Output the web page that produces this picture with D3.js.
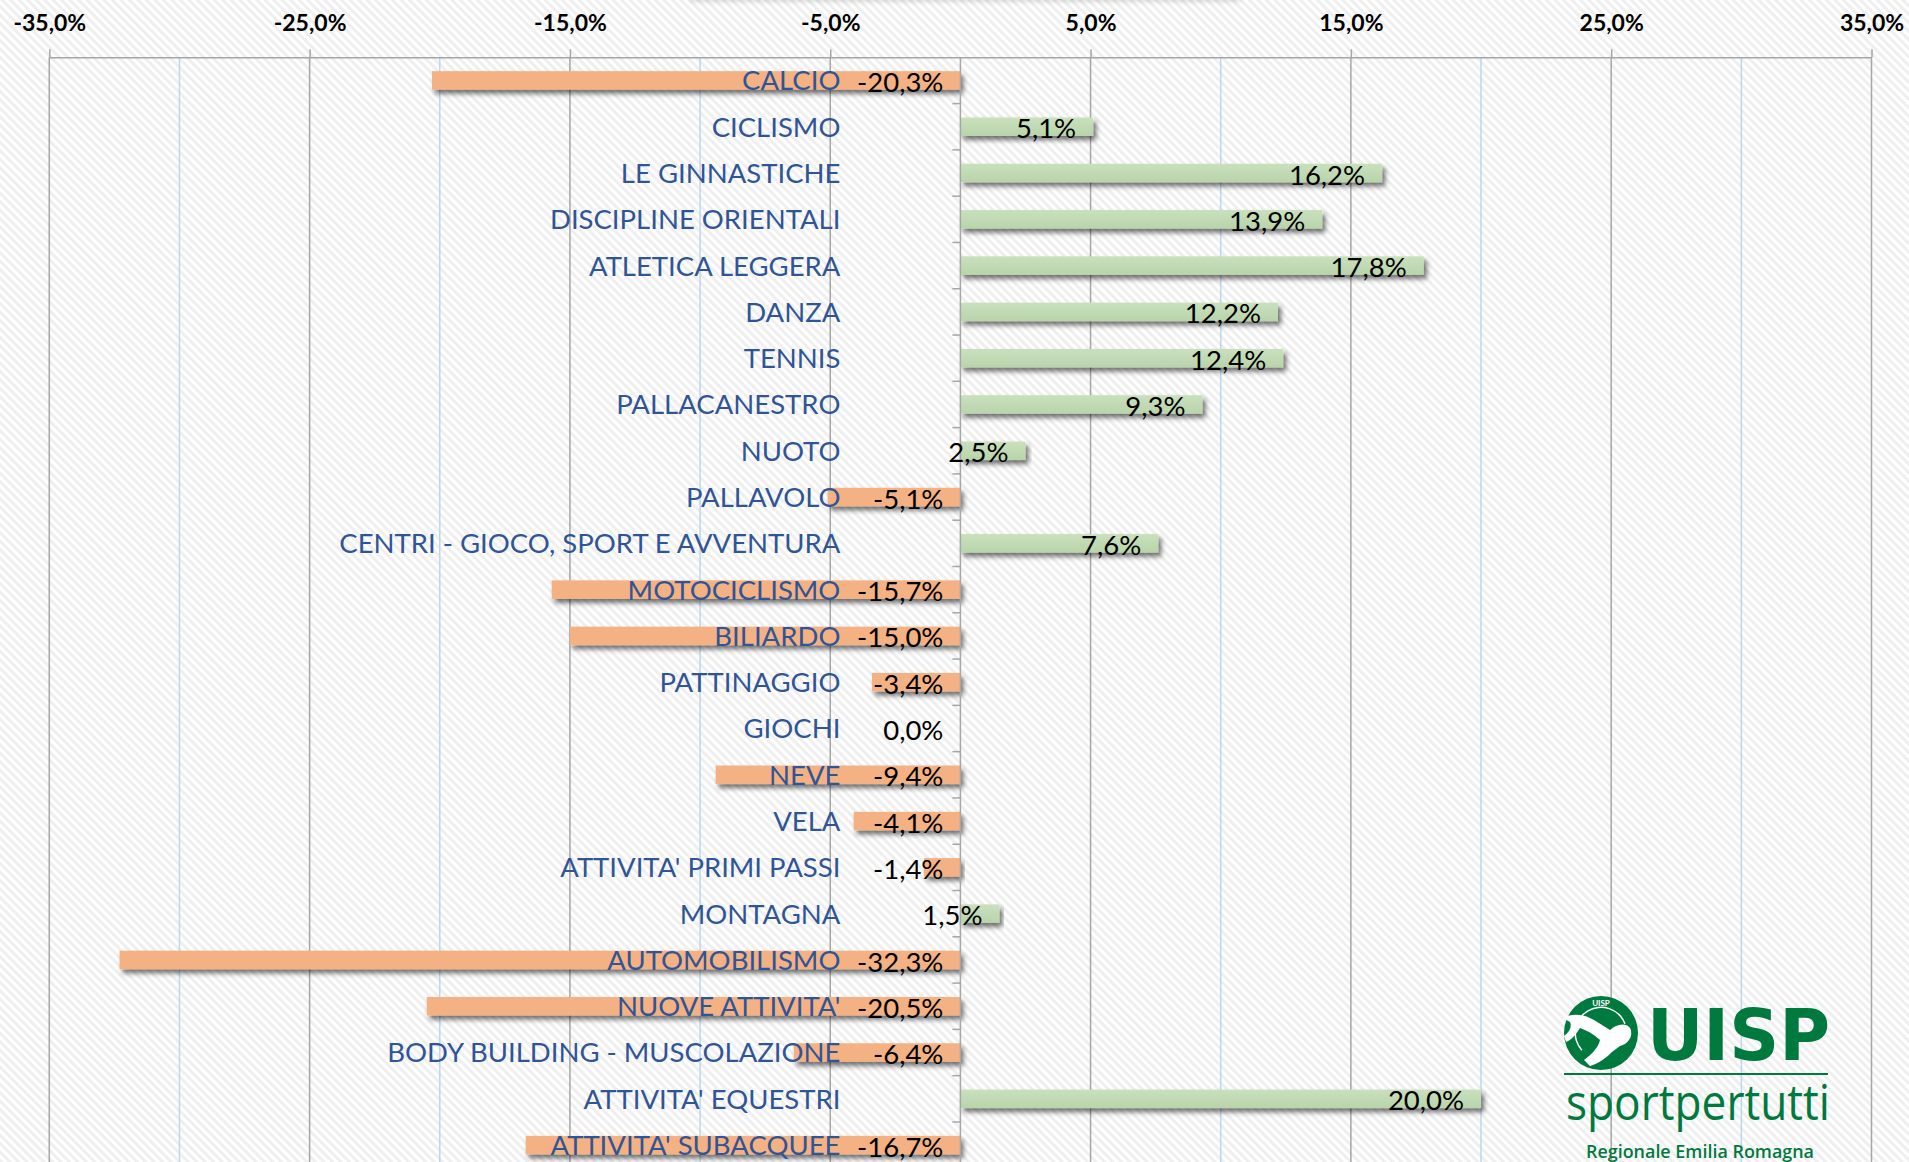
<!doctype html>
<html lang="it">
<head>
<meta charset="utf-8">
<title>Variazione tesserati per attivita'</title>
<script src="https://d3js.org/d3.v7.min.js"></script>
<style>
  body { margin: 0; background: #fff; }
  svg text { font-family: Lato, "Open Sans", sans-serif; }
</style>
</head>
<body>
<svg id="chart" width="1909" height="1162"></svg>
<script>
// data
var categories = ["CALCIO", "CICLISMO", "LE GINNASTICHE", "DISCIPLINE ORIENTALI", "ATLETICA LEGGERA",
  "DANZA", "TENNIS", "PALLACANESTRO", "NUOTO", "PALLAVOLO", "CENTRI - GIOCO, SPORT E AVVENTURA",
  "MOTOCICLISMO", "BILIARDO", "PATTINAGGIO", "GIOCHI", "NEVE", "VELA", "ATTIVITA' PRIMI PASSI",
  "MONTAGNA", "AUTOMOBILISMO", "NUOVE ATTIVITA'", "BODY BUILDING - MUSCOLAZIONE",
  "ATTIVITA' EQUESTRI", "ATTIVITA' SUBACQUEE"];
var variazione = [-20.3, 5.1, 16.2, 13.9, 17.8, 12.2, 12.4, 9.3, 2.5, -5.1, 7.6, -15.7, -15.0, -3.4,
  0.0, -9.4, -4.1, -1.4, 1.5, -32.3, -20.5, -6.4, 20.0, -16.7];
var tickValues = [-35, -25, -15, -5, 5, 15, 25, 35];
var minorValues = [-30, -20, -10, 10, 20, 30];

var data = categories.map(function(c, i) { return {cat: c, v: variazione[i]}; });

var W = 1909, H = 1162;
var svg = d3.select("#chart");

var it = d3.formatLocale({decimal: ",", thousands: ".", grouping: [3], currency: ["", "€"], minus: "-"});
var f1 = it.format(".1f");
var pct = function(v) { return f1(v) + "%"; };

var top0 = 57.3, step = 46.29;
var x = d3.scaleLinear().domain([-35, 35]).range([49.3, 1871.5]);
var y = d3.scaleBand().domain(categories).range([top0, top0 + step * categories.length])
  .paddingInner(0.6).paddingOuter(0.3);

var defs = svg.append("defs");
var hatch = defs.append("pattern").attr("id", "hatch").attr("patternUnits", "userSpaceOnUse")
  .attr("width", 6).attr("height", 6).attr("patternTransform", "rotate(-45)");
hatch.append("rect").attr("width", 6).attr("height", 6).attr("fill", "#ffffff");
hatch.append("rect").attr("width", 3).attr("height", 6).attr("fill", "#efefef");

var sh = defs.append("filter").attr("id", "shadow").attr("x", "-5%").attr("y", "-50%")
  .attr("width", "115%").attr("height", "250%");
sh.append("feDropShadow").attr("dx", 3).attr("dy", 4).attr("stdDeviation", 2.5)
  .attr("flood-color", "#000").attr("flood-opacity", 0.55);

var sh2 = defs.append("filter").attr("id", "softshadow").attr("x", "-5%").attr("y", "-50%")
  .attr("width", "110%").attr("height", "250%");
sh2.append("feDropShadow").attr("dx", 0).attr("dy", 2).attr("stdDeviation", 2)
  .attr("flood-color", "#000").attr("flood-opacity", 0.12);

var grad = defs.append("linearGradient").attr("id", "verde").attr("x1", 0).attr("y1", 0).attr("x2", 0).attr("y2", 1);
grad.append("stop").attr("offset", "0%").attr("stop-color", "#c9e0bd");
grad.append("stop").attr("offset", "100%").attr("stop-color", "#b9d4ab");

svg.append("rect").attr("width", W).attr("height", H).attr("fill", "url(#hatch)");

// faint shadow of the title box at the top
svg.append("rect").attr("x", 690).attr("y", -20).attr("width", 550).attr("height", 20)
  .attr("fill", "#fff").attr("filter", "url(#softshadow)");

// gridlines
svg.append("g").selectAll("line").data(minorValues).enter().append("line")
  .attr("x1", function(d) { return x(d); }).attr("x2", function(d) { return x(d); })
  .attr("y1", top0).attr("y2", H)
  .attr("stroke", "#bdd7ee").attr("stroke-width", 1.5);
svg.append("g").selectAll("line").data(tickValues).enter().append("line")
  .attr("x1", function(d) { return x(d); }).attr("x2", function(d) { return x(d); })
  .attr("y1", top0).attr("y2", H)
  .attr("stroke", "#a6a6a6").attr("stroke-width", 1.5);

// bars
svg.append("g").selectAll("rect").data(data.filter(function(d) { return d.v !== 0; })).enter().append("rect")
  .attr("x", function(d) { return x(Math.min(0, d.v)); })
  .attr("y", function(d) { return y(d.cat); })
  .attr("width", function(d) { return Math.abs(x(d.v) - x(0)); })
  .attr("height", y.bandwidth())
  .attr("fill", function(d) { return d.v < 0 ? "#f4b183" : "url(#verde)"; })
  .attr("filter", "url(#shadow)");

// vertical axis at zero, ticks between categories
var zx = x(0);
svg.append("line").attr("x1", zx).attr("x2", zx).attr("y1", top0).attr("y2", H)
  .attr("stroke", "#a6a6a6").attr("stroke-width", 1.5);
svg.append("g").selectAll("line").data(d3.range(1, categories.length)).enter().append("line")
  .attr("x1", zx - 8).attr("x2", zx)
  .attr("y1", function(i) { return top0 + i * y.step(); })
  .attr("y2", function(i) { return top0 + i * y.step(); })
  .attr("stroke", "#a6a6a6").attr("stroke-width", 1.5);

// top axis
var ax = svg.append("g").attr("transform", "translate(0," + top0 + ")")
  .call(d3.axisTop(x).tickValues(tickValues).tickSize(8).tickSizeOuter(0).tickPadding(18).tickFormat(pct));
ax.select(".domain").attr("stroke", "#a6a6a6").attr("stroke-width", 1.5);
ax.selectAll(".tick line").attr("stroke", "#a6a6a6").attr("stroke-width", 1.5);
ax.selectAll(".tick text").attr("fill", "#000").style("font-size", "23px").style("font-weight", "bold");

// category labels
var cy = svg.append("g").attr("transform", "translate(" + zx + ",0)")
  .call(d3.axisLeft(y).tickSize(0).tickPadding(120));
cy.select(".domain").remove();
cy.selectAll(".tick text").attr("fill", "#2f5597").attr("dy", "0.36em").style("font-size", "27.5px");

// value labels
svg.append("g").selectAll("text").data(data).enter().append("text")
  .attr("x", function(d) { return x(Math.max(0, d.v)) - 17; })
  .attr("y", function(d) { return y(d.cat) + y.bandwidth() / 2; })
  .attr("dy", "0.42em")
  .attr("text-anchor", "end")
  .style("font-size", "27.5px")
  .attr("fill", "#000")
  .text(function(d) { return pct(d.v); });

// UISP logo
var green = "#00793f";
var logo = svg.append("g").attr("id", "logo");
logo.append("circle").attr("cx", 1601).attr("cy", 1033).attr("r", 37).attr("fill", green);
logo.append("path").attr("d", d3.arc()({innerRadius: 25, outerRadius: 26.5, startAngle: -2.3, endAngle: 1.2}))
  .attr("transform", "translate(1601,1033)").attr("fill", "#fff");
logo.append("text").attr("x", 1601).attr("y", 1006).attr("text-anchor", "middle")
  .style("font-size", "8px").style("font-weight", "bold").attr("fill", "#fff").text("UISP");
// runner silhouette, rough
logo.append("path")
  .attr("d", "M1563,1018 C1572,1013 1584,1014 1594,1020 L1610,1030 C1616,1024 1626,1022 1630,1028 C1634,1036 1628,1044 1620,1046 L1612,1052 C1606,1058 1598,1064 1590,1066 L1584,1060 C1592,1054 1598,1048 1600,1040 C1594,1034 1586,1030 1580,1028 C1576,1034 1572,1040 1566,1042 L1564,1036 C1570,1032 1572,1026 1570,1022 Z")
  .attr("fill", "#fff");
logo.append("circle").attr("cx", 1625).attr("cy", 1032).attr("r", 6).attr("fill", "#fff");
logo.append("text").attr("x", 1647).attr("y", 1060).attr("textLength", 183).attr("lengthAdjust", "spacingAndGlyphs")
  .style("font-family", "'DejaVu Sans', sans-serif").style("font-weight", "bold").style("font-size", "72px")
  .attr("fill", green).text("UISP");
logo.append("line").attr("x1", 1564).attr("x2", 1828).attr("y1", 1074).attr("y2", 1074)
  .attr("stroke", green).attr("stroke-width", 2);
logo.append("text").attr("x", 1566).attr("y", 1120).attr("textLength", 264).attr("lengthAdjust", "spacingAndGlyphs")
  .style("font-family", "'Open Sans', sans-serif").style("font-size", "50px")
  .attr("fill", green).text("sportpertutti");
logo.append("text").attr("x", 1586).attr("y", 1158).attr("textLength", 228).attr("lengthAdjust", "spacingAndGlyphs")
  .style("font-family", "'Open Sans', sans-serif").style("font-weight", "600").style("font-size", "18px")
  .attr("fill", green).text("Regionale Emilia Romagna");
</script>
</body>
</html>
